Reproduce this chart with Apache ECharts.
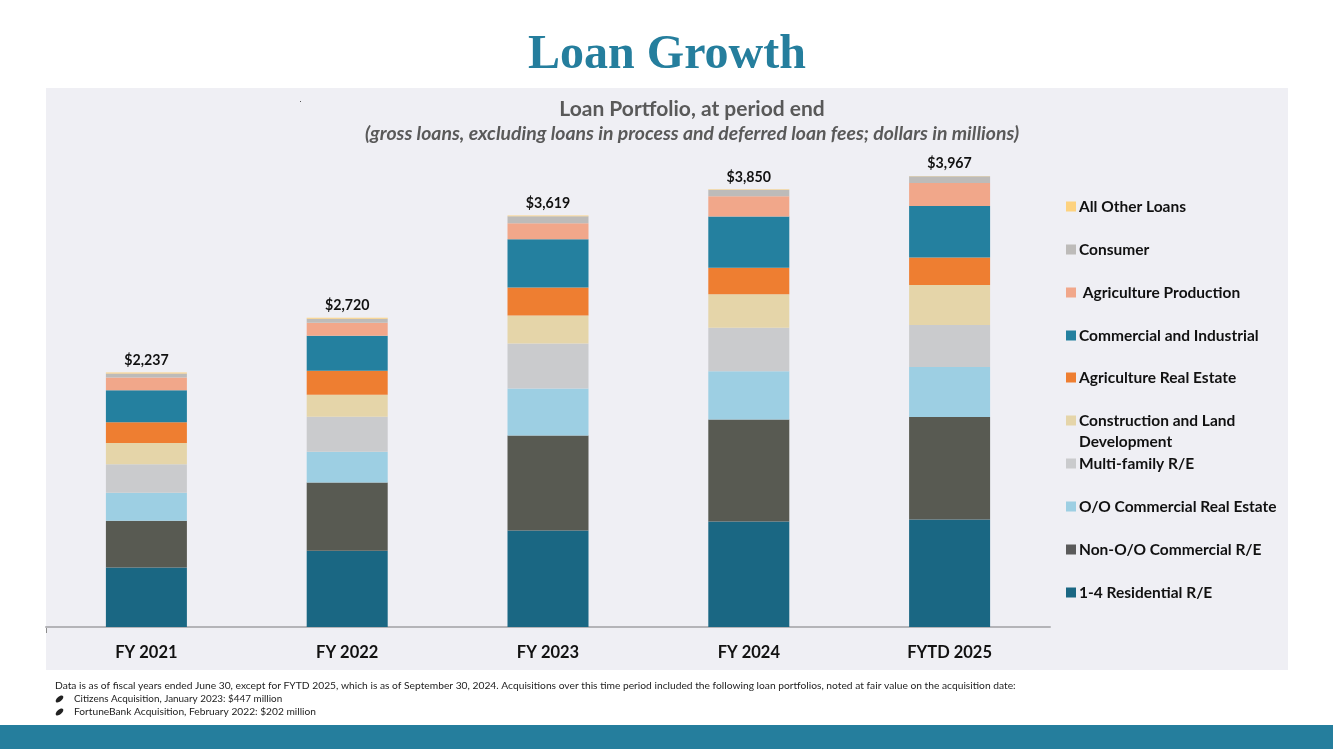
<!DOCTYPE html>
<html><head><meta charset="utf-8">
<style>html,body{margin:0;padding:0;background:#fff}#c{width:1333px;height:749px}</style>
<script src="https://cdn.jsdelivr.net/npm/echarts@6/dist/echarts.min.js"></script>
</head><body><div id="c"></div>
<script>
const categories = ['FY 2021','FY 2022','FY 2023','FY 2024','FYTD 2025'];
const totals = [2237,2720,3619,3850,3967];
const residential = [523,670,849,927,945];
const nonOO = [411,600,835,897,901];
const ooCRE = [246,272,413,426,440];
const multiFamily = [252,308,396,382,369];
const construction = [187,193,246,294,352];
const agRE = [182,211,246,234,243];
const commercialIndustrial = [281,308,425,451,452];
const agProduction = [112,114,141,176,202];
const consumer = [35,35,62,59,59];
const allOther = [8,9,6,4,4];
const seriesNames = ['1-4 Residential R/E','Non-O/O Commercial R/E','O/O Commercial Real Estate','Multi-family R/E','Construction and Land Development','Agriculture Real Estate','Commercial and Industrial',' Agriculture Production','Consumer','All Other Loans'];
const seriesValues = [residential,nonOO,ooCRE,multiFamily,construction,agRE,commercialIndustrial,agProduction,consumer,allOther];
const colors = ['#1a6783','#585a52','#9dcfe3','#cacbcd','#e5d5a9','#ee7e31','#24809f','#f1a78a','#bdbbb9','#fdd27f'];
const legendSymbolColors = ['#1a6783','#5a5a5a','#9dcfe3','#cacbcd','#e5d5a9','#ee7e31','#24809f','#f1a78a','#bdbbb9','#fdd27f'];
const legendCenters = [592,549,506,463,420,377,335,292,249,206];
const footnote = 'Data is as of fiscal years ended June 30, except for FYTD 2025, which is as of September 30, 2024. Acquisitions over this time period included the following loan portfolios, noted at fair value on the acquisition date:';
const bullets = ['Citizens Acquisition, January 2023: $447 million','FortuneBank Acquisition, February 2022: $202 million'];
const F = 'Lato, "Noto Sans", sans-serif';
const chart = echarts.init(document.getElementById('c'), null, {renderer:'canvas'});
chart.setOption({
  animation:false,
  backgroundColor:'#fff',
  color:colors,
  title:[
    {text:'Loan Growth',padding:0,left:667,top:56,textAlign:'center',textVerticalAlign:'middle',textStyle:{fontFamily:'"Liberation Serif",serif',fontSize:48,fontWeight:'bold',color:'#257e9d'}},
    {text:'Loan Portfolio, at period end',padding:0,left:692,top:109,textAlign:'center',textVerticalAlign:'middle',textStyle:{fontFamily:F,fontSize:21,fontWeight:'bold',color:'#595959'}},
    {text:'(gross loans, excluding loans in process and deferred loan fees; dollars in millions)',padding:0,left:692,top:134,textAlign:'center',textVerticalAlign:'middle',textStyle:{fontFamily:F,fontSize:19.4,fontWeight:'bold',fontStyle:'italic',color:'#595959'}}
  ],
  grid:{left:46,top:88,width:1004,height:539,containLabel:false},
  xAxis:{type:'category',data:categories,
    axisLine:{show:true,lineStyle:{color:'#b4b4b8',width:2}},axisTick:{show:false},
    axisLabel:{margin:17,fontFamily:F,fontSize:16.5,fontWeight:'bold',color:'#111'}},
  yAxis:{type:'value',min:0,max:4740,show:false,splitLine:{show:false}},
  legend:seriesNames.map((n,i)=>({
    data:[n],selectedMode:false,orient:'vertical',left:1066,
    top: n.startsWith('Construction') ? legendCenters[i]-31 : legendCenters[i]-10,
    padding:0,itemWidth:10,itemHeight:10,icon:'rect',
    itemStyle:{color:legendSymbolColors[i]},
    formatter:n.startsWith('Construction') ? '\nConstruction and Land\nDevelopment' : undefined,
    textStyle:{fontFamily:F,fontSize:15.5,fontWeight:'bold',color:'#111',lineHeight:21,padding:[0,0,0,-2]}
  })),
  graphic:[
    {type:'rect',z:-10,shape:{x:46,y:88,width:1242,height:582},style:{fill:'#efeff4'}},
    {type:'rect',z:-10,shape:{x:0,y:725,width:1333,height:24},style:{fill:'#257e9d'}},
    {type:'rect',z:-9,shape:{x:300,y:101,width:1,height:1},style:{fill:'#555'}},
    {type:'rect',z:-9,shape:{x:46,y:627,width:1,height:6},style:{fill:'#8c8c8c'}},
    {type:'text',x:55,y:686,style:{text:footnote,font:'10.25px '+F,fill:'#222',textVerticalAlign:'middle'}},
    {type:'text',x:74,y:699,style:{text:bullets[0],font:'9.9px '+F,fill:'#222',textVerticalAlign:'middle'}},
    {type:'text',x:74,y:712,style:{text:bullets[1],font:'10.2px '+F,fill:'#222',textVerticalAlign:'middle'}},
    {type:'ellipse',x:59.5,y:699,rotation:0.7,shape:{cx:0,cy:0,rx:4.6,ry:2.4},style:{fill:'#222'}},
    {type:'ellipse',x:59.5,y:712,rotation:0.7,shape:{cx:0,cy:0,rx:4.6,ry:2.4},style:{fill:'#222'}}
  ],
  series:seriesNames.map((n,i)=>({
    name:n,type:'bar',stack:'loans',barWidth:81,data:seriesValues[i],
    itemStyle:{color:colors[i]},
    label:i===seriesNames.length-1?{show:true,position:'top',distance:5,
      formatter:p=>'$'+totals[p.dataIndex].toLocaleString('en-US'),
      fontFamily:F,fontSize:14.2,fontWeight:'bold',color:'#111'}:{show:false}
  }))
});
</script></body></html>
